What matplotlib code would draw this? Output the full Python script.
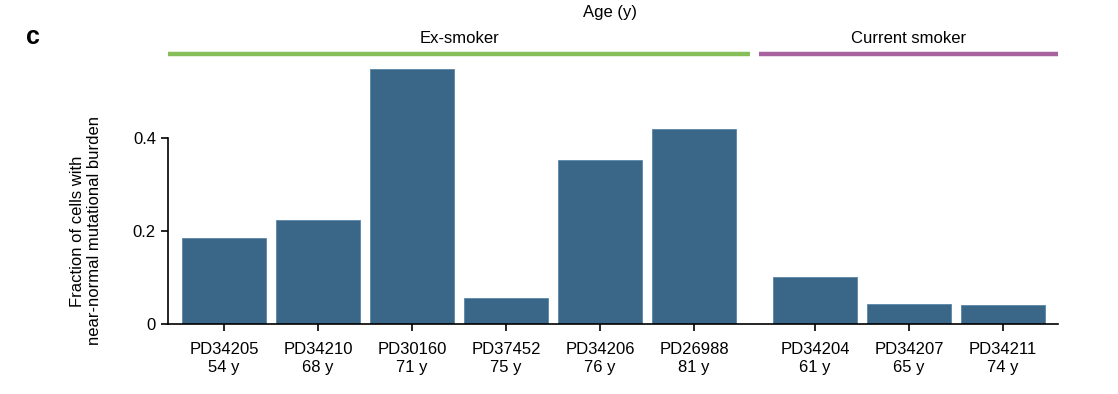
import matplotlib.pyplot as plt

plt.rcParams['font.family'] = ['Liberation Sans', 'DejaVu Sans']

samples = ["PD34205", "PD34210", "PD30160", "PD37452", "PD34206", "PD26988",
           "PD34204", "PD34207", "PD34211"]
ages = [54, 68, 71, 75, 76, 81, 61, 65, 74]
fractions = [0.184, 0.223, 0.548, 0.055, 0.353, 0.419, 0.100, 0.042, 0.041]
groups = ["Ex-smoker"] * 6 + ["Current smoker"] * 3
group_colors = {"Ex-smoker": "#86bf5a", "Current smoker": "#a8629f"}

# positions with a small gap between the two groups
gap = 0.29
pos = []
for i, g in enumerate(groups):
    pos.append(i + (gap if g == "Current smoker" else 0))

fig = plt.figure(figsize=(11.18, 3.94), dpi=100)
ax = fig.add_axes([0.150, 0.178, 0.796, 0.661])

ax.bar(pos, fractions, width=0.9, color="#3a6688", edgecolor="#5a86a8", linewidth=0.6)

fs = 12
ax.set_xlim(-0.6, 8.87)
ax.set_ylim(0, 0.56)
ax.set_xticks(pos)
ax.set_xticklabels([f"{s}\n{a} y" for s, a in zip(samples, ages)], fontsize=fs,
                   linespacing=1.25)
ax.set_yticks([0, 0.2, 0.4])
ax.set_yticklabels(["0", "0.2", "0.4"], fontsize=fs)
ax.tick_params(axis="both", direction="out", length=5, width=1.2, colors="black")
ax.tick_params(axis="x", pad=8)

for side in ["top", "right"]:
    ax.spines[side].set_visible(False)
ax.spines["left"].set_bounds(0, 0.4)
ax.spines["left"].set_linewidth(1.2)
ax.spines["bottom"].set_linewidth(1.2)

ax.text(-1.47, 0.2, "Fraction of cells with\nnear-normal mutational burden",
        rotation=90, ha="center", va="center", fontsize=fs, linespacing=1.1)

# group bars on top
for g, (x0, x1) in {"Ex-smoker": (-0.6, 5.6), "Current smoker": (5.69, 8.87)}.items():
    ax.plot([x0, x1], [0.58, 0.58], color=group_colors[g], lw=3.2,
            solid_capstyle="butt", clip_on=False)
    ax.text((x0 + x1) / 2, 0.597, g, ha="center", va="bottom", fontsize=fs)

fig.text(610 / 1118, 1 - 12 / 394, "Age (y)", ha="center", va="center", fontsize=fs)
fig.text(26 / 1118, 1 - 37 / 394, "c", ha="left", va="center", fontsize=18,
         fontweight="bold")

fig.savefig("out.png", dpi=100)
